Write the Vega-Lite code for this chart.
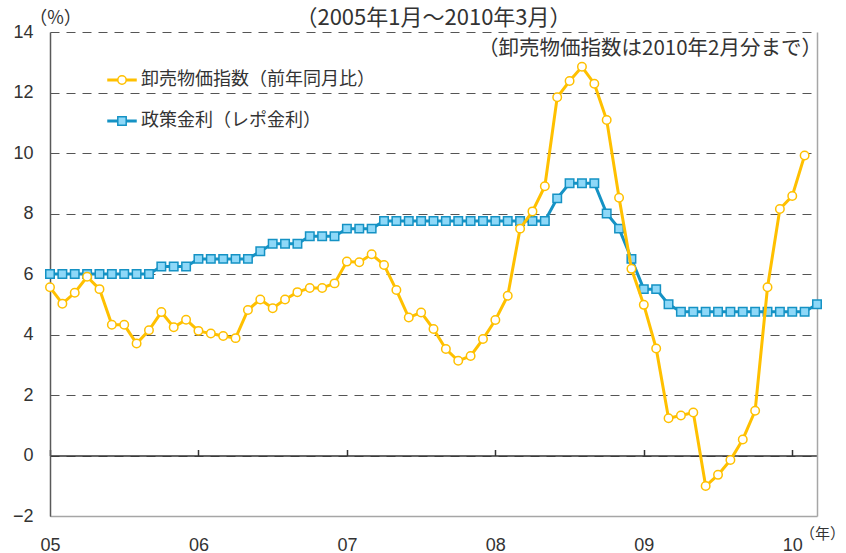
{
"$schema": "https://vega.github.io/schema/vega-lite/v6.json",
"width": 767,
"height": 484,
"autosize": {"type": "none"},
"padding": {"left": 50, "top": 32, "right": 29, "bottom": 37},
"background": "white",
"config": {"font": "Liberation Sans", "view": {"stroke": null}},
"title": {"text": "（2005年1月～2010年3月）", "font": "Noto Sans CJK JP", "fontSize": 22, "fontWeight": "normal", "color": "#333333", "anchor": "middle", "offset": 5, "dy": 26},
"data": {"values": [
{"month":"2005-01","series":"政策金利（レポ金利）","value":6.0},
{"month":"2005-02","series":"政策金利（レポ金利）","value":6.0},
{"month":"2005-03","series":"政策金利（レポ金利）","value":6.0},
{"month":"2005-04","series":"政策金利（レポ金利）","value":6.0},
{"month":"2005-05","series":"政策金利（レポ金利）","value":6.0},
{"month":"2005-06","series":"政策金利（レポ金利）","value":6.0},
{"month":"2005-07","series":"政策金利（レポ金利）","value":6.0},
{"month":"2005-08","series":"政策金利（レポ金利）","value":6.0},
{"month":"2005-09","series":"政策金利（レポ金利）","value":6.0},
{"month":"2005-10","series":"政策金利（レポ金利）","value":6.25},
{"month":"2005-11","series":"政策金利（レポ金利）","value":6.25},
{"month":"2005-12","series":"政策金利（レポ金利）","value":6.25},
{"month":"2006-01","series":"政策金利（レポ金利）","value":6.5},
{"month":"2006-02","series":"政策金利（レポ金利）","value":6.5},
{"month":"2006-03","series":"政策金利（レポ金利）","value":6.5},
{"month":"2006-04","series":"政策金利（レポ金利）","value":6.5},
{"month":"2006-05","series":"政策金利（レポ金利）","value":6.5},
{"month":"2006-06","series":"政策金利（レポ金利）","value":6.75},
{"month":"2006-07","series":"政策金利（レポ金利）","value":7.0},
{"month":"2006-08","series":"政策金利（レポ金利）","value":7.0},
{"month":"2006-09","series":"政策金利（レポ金利）","value":7.0},
{"month":"2006-10","series":"政策金利（レポ金利）","value":7.25},
{"month":"2006-11","series":"政策金利（レポ金利）","value":7.25},
{"month":"2006-12","series":"政策金利（レポ金利）","value":7.25},
{"month":"2007-01","series":"政策金利（レポ金利）","value":7.5},
{"month":"2007-02","series":"政策金利（レポ金利）","value":7.5},
{"month":"2007-03","series":"政策金利（レポ金利）","value":7.5},
{"month":"2007-04","series":"政策金利（レポ金利）","value":7.75},
{"month":"2007-05","series":"政策金利（レポ金利）","value":7.75},
{"month":"2007-06","series":"政策金利（レポ金利）","value":7.75},
{"month":"2007-07","series":"政策金利（レポ金利）","value":7.75},
{"month":"2007-08","series":"政策金利（レポ金利）","value":7.75},
{"month":"2007-09","series":"政策金利（レポ金利）","value":7.75},
{"month":"2007-10","series":"政策金利（レポ金利）","value":7.75},
{"month":"2007-11","series":"政策金利（レポ金利）","value":7.75},
{"month":"2007-12","series":"政策金利（レポ金利）","value":7.75},
{"month":"2008-01","series":"政策金利（レポ金利）","value":7.75},
{"month":"2008-02","series":"政策金利（レポ金利）","value":7.75},
{"month":"2008-03","series":"政策金利（レポ金利）","value":7.75},
{"month":"2008-04","series":"政策金利（レポ金利）","value":7.75},
{"month":"2008-05","series":"政策金利（レポ金利）","value":7.75},
{"month":"2008-06","series":"政策金利（レポ金利）","value":8.5},
{"month":"2008-07","series":"政策金利（レポ金利）","value":9.0},
{"month":"2008-08","series":"政策金利（レポ金利）","value":9.0},
{"month":"2008-09","series":"政策金利（レポ金利）","value":9.0},
{"month":"2008-10","series":"政策金利（レポ金利）","value":8.0},
{"month":"2008-11","series":"政策金利（レポ金利）","value":7.5},
{"month":"2008-12","series":"政策金利（レポ金利）","value":6.5},
{"month":"2009-01","series":"政策金利（レポ金利）","value":5.5},
{"month":"2009-02","series":"政策金利（レポ金利）","value":5.5},
{"month":"2009-03","series":"政策金利（レポ金利）","value":5.0},
{"month":"2009-04","series":"政策金利（レポ金利）","value":4.75},
{"month":"2009-05","series":"政策金利（レポ金利）","value":4.75},
{"month":"2009-06","series":"政策金利（レポ金利）","value":4.75},
{"month":"2009-07","series":"政策金利（レポ金利）","value":4.75},
{"month":"2009-08","series":"政策金利（レポ金利）","value":4.75},
{"month":"2009-09","series":"政策金利（レポ金利）","value":4.75},
{"month":"2009-10","series":"政策金利（レポ金利）","value":4.75},
{"month":"2009-11","series":"政策金利（レポ金利）","value":4.75},
{"month":"2009-12","series":"政策金利（レポ金利）","value":4.75},
{"month":"2010-01","series":"政策金利（レポ金利）","value":4.75},
{"month":"2010-02","series":"政策金利（レポ金利）","value":4.75},
{"month":"2010-03","series":"政策金利（レポ金利）","value":5.0},
{"month":"2005-01","series":"卸売物価指数（前年同月比）","value":5.56},
{"month":"2005-02","series":"卸売物価指数（前年同月比）","value":5.02},
{"month":"2005-03","series":"卸売物価指数（前年同月比）","value":5.38},
{"month":"2005-04","series":"卸売物価指数（前年同月比）","value":5.91},
{"month":"2005-05","series":"卸売物価指数（前年同月比）","value":5.5},
{"month":"2005-06","series":"卸売物価指数（前年同月比）","value":4.32},
{"month":"2005-07","series":"卸売物価指数（前年同月比）","value":4.32},
{"month":"2005-08","series":"卸売物価指数（前年同月比）","value":3.7},
{"month":"2005-09","series":"卸売物価指数（前年同月比）","value":4.14},
{"month":"2005-10","series":"卸売物価指数（前年同月比）","value":4.74},
{"month":"2005-11","series":"卸売物価指数（前年同月比）","value":4.24},
{"month":"2005-12","series":"卸売物価指数（前年同月比）","value":4.49},
{"month":"2006-01","series":"卸売物価指数（前年同月比）","value":4.12},
{"month":"2006-02","series":"卸売物価指数（前年同月比）","value":4.03},
{"month":"2006-03","series":"卸売物価指数（前年同月比）","value":3.95},
{"month":"2006-04","series":"卸売物価指数（前年同月比）","value":3.88},
{"month":"2006-05","series":"卸売物価指数（前年同月比）","value":4.81},
{"month":"2006-06","series":"卸売物価指数（前年同月比）","value":5.16},
{"month":"2006-07","series":"卸売物価指数（前年同月比）","value":4.87},
{"month":"2006-08","series":"卸売物価指数（前年同月比）","value":5.16},
{"month":"2006-09","series":"卸売物価指数（前年同月比）","value":5.4},
{"month":"2006-10","series":"卸売物価指数（前年同月比）","value":5.54},
{"month":"2006-11","series":"卸売物価指数（前年同月比）","value":5.54},
{"month":"2006-12","series":"卸売物価指数（前年同月比）","value":5.69},
{"month":"2007-01","series":"卸売物価指数（前年同月比）","value":6.41},
{"month":"2007-02","series":"卸売物価指数（前年同月比）","value":6.39},
{"month":"2007-03","series":"卸売物価指数（前年同月比）","value":6.65},
{"month":"2007-04","series":"卸売物価指数（前年同月比）","value":6.3},
{"month":"2007-05","series":"卸売物価指数（前年同月比）","value":5.47},
{"month":"2007-06","series":"卸売物価指数（前年同月比）","value":4.56},
{"month":"2007-07","series":"卸売物価指数（前年同月比）","value":4.73},
{"month":"2007-08","series":"卸売物価指数（前年同月比）","value":4.18},
{"month":"2007-09","series":"卸売物価指数（前年同月比）","value":3.52},
{"month":"2007-10","series":"卸売物価指数（前年同月比）","value":3.13},
{"month":"2007-11","series":"卸売物価指数（前年同月比）","value":3.29},
{"month":"2007-12","series":"卸売物価指数（前年同月比）","value":3.85},
{"month":"2008-01","series":"卸売物価指数（前年同月比）","value":4.48},
{"month":"2008-02","series":"卸売物価指数（前年同月比）","value":5.28},
{"month":"2008-03","series":"卸売物価指数（前年同月比）","value":7.5},
{"month":"2008-04","series":"卸売物価指数（前年同月比）","value":8.07},
{"month":"2008-05","series":"卸売物価指数（前年同月比）","value":8.9},
{"month":"2008-06","series":"卸売物価指数（前年同月比）","value":11.84},
{"month":"2008-07","series":"卸売物価指数（前年同月比）","value":12.38},
{"month":"2008-08","series":"卸売物価指数（前年同月比）","value":12.85},
{"month":"2008-09","series":"卸売物価指数（前年同月比）","value":12.29},
{"month":"2008-10","series":"卸売物価指数（前年同月比）","value":11.09},
{"month":"2008-11","series":"卸売物価指数（前年同月比）","value":8.52},
{"month":"2008-12","series":"卸売物価指数（前年同月比）","value":6.17},
{"month":"2009-01","series":"卸売物価指数（前年同月比）","value":4.98},
{"month":"2009-02","series":"卸売物価指数（前年同月比）","value":3.54},
{"month":"2009-03","series":"卸売物価指数（前年同月比）","value":1.23},
{"month":"2009-04","series":"卸売物価指数（前年同月比）","value":1.32},
{"month":"2009-05","series":"卸売物価指数（前年同月比）","value":1.42},
{"month":"2009-06","series":"卸売物価指数（前年同月比）","value":-1.01},
{"month":"2009-07","series":"卸売物価指数（前年同月比）","value":-0.64},
{"month":"2009-08","series":"卸売物価指数（前年同月比）","value":-0.15},
{"month":"2009-09","series":"卸売物価指数（前年同月比）","value":0.53},
{"month":"2009-10","series":"卸売物価指数（前年同月比）","value":1.48},
{"month":"2009-11","series":"卸売物価指数（前年同月比）","value":5.56},
{"month":"2009-12","series":"卸売物価指数（前年同月比）","value":8.15},
{"month":"2010-01","series":"卸売物価指数（前年同月比）","value":8.58},
{"month":"2010-02","series":"卸売物価指数（前年同月比）","value":9.92}
]},
"layer": [
{
"transform": [{"filter": "datum.series === '政策金利（レポ金利）'"}],
"mark": {"type": "line", "strokeWidth": 3},
"encoding": {
"x": {"field": "month", "type": "ordinal", "sort": null, "scale": {"type": "point", "padding": 0},
 "axis": {"orient": "bottom", "values": ["2005-01","2006-01","2007-01","2008-01","2009-01","2010-01"], "labelExpr": "substring(datum.value, 2, 4)", "labelAngle": 0, "labelFlush": false, "labelOverlap": false, "ticks": false, "grid": false, "domainColor": "#a6a6a6", "domainWidth": 1.5, "labelFont": "Liberation Sans", "labelFontSize": 18, "labelColor": "#333333", "labelPadding": 20, "labelBaseline": "top", "title": "（年）", "titleFont": "Noto Sans CJK JP", "titleFontSize": 15, "titleFontWeight": "normal", "titleColor": "#333333", "titleX": 772, "titleY": 17, "titleAlign": "center", "titleBaseline": "middle"}},
"y": {"field": "value", "type": "quantitative", "scale": {"domain": [-2, 14], "nice": false, "zero": false},
 "axis": {"orient": "left", "values": [-2,0,2,4,6,8,10,12,14], "grid": true, "gridDash": [9, 7], "gridColor": "#555555", "gridWidth": 1, "ticks": false, "domainColor": "#595959", "domainWidth": 1.5, "labelFont": "Liberation Sans", "labelFontSize": 18, "labelColor": "#333333", "labelPadding": 17, "title": "（%）", "titleAngle": 0, "titleX": 5, "titleY": -14, "titleAlign": "center", "titleBaseline": "middle", "titleFont": "Noto Sans CJK JP", "titleFontSize": 18, "titleFontWeight": "normal", "titleColor": "#333333"}},
"color": {"field": "series", "type": "nominal", "scale": {"domain": ["卸売物価指数（前年同月比）", "政策金利（レポ金利）"], "range": ["#FFC000", "#1592C4"]},
 "legend": {"orient": "none", "legendX": 57, "legendY": 33, "title": null, "symbolSize": 784, "symbolStrokeWidth": 1.5, "labelFont": "Noto Sans CJK JP", "labelFontSize": 18, "labelColor": "#333333", "labelOffset": 4, "labelLimit": 400, "rowPadding": 17, "padding": 0,
  "encode": {"symbols": {"update": {
   "shape": {"signal": "datum.index === 1 ? 'M-1,-0.054H-0.3V0.054H-1Z M0.3,-0.054H1V0.054H0.3Z M-0.3,-0.3H0.3V0.3H-0.3Z' : 'M-1,-0.054H-0.32V0.054H-1Z M0.32,-0.054H1V0.054H0.32Z M-0.3,0A0.3,0.3 0 1,0 0.3,0A0.3,0.3 0 1,0 -0.3,0Z'"},
   "fill": {"signal": "datum.index === 1 ? '#8ED8F8' : '#ffffff'"},
   "strokeWidth": {"value": 1.5}
  }}}}}
}
},
{
"transform": [{"filter": "datum.series === '政策金利（レポ金利）'"}],
"mark": {"type": "point", "filled": true, "size": 72, "strokeWidth": 1.5, "opacity": 1},
"encoding": {
"x": {"field": "month", "type": "ordinal", "sort": null,
 "axis": {"orient": "top", "offset": -423.5, "values": ["2005-01","2006-01","2007-01","2008-01","2009-01","2010-01"], "labels": false, "ticks": true, "tickSize": 6, "tickColor": "#333333", "tickWidth": 1.5, "domainColor": "#333333", "domainWidth": 1.5, "grid": false, "title": null}},
"y": {"field": "value", "type": "quantitative",
 "axis": {"orient": "right", "labels": false, "ticks": false, "grid": false, "domainColor": "#a6a6a6", "domainWidth": 1.5, "title": null}},
"shape": {"value": "square"},
"fill": {"value": "#8ED8F8"},
"stroke": {"value": "#1592C4"}
}
},
{
"transform": [{"filter": "datum.series === '卸売物価指数（前年同月比）'"}],
"mark": {"type": "line", "strokeWidth": 3},
"encoding": {
"x": {"field": "month", "type": "ordinal", "sort": null, "axis": null},
"y": {"field": "value", "type": "quantitative", "axis": null},
"color": {"field": "series", "type": "nominal"}
}
},
{
"transform": [{"filter": "datum.series === '卸売物価指数（前年同月比）'"}],
"mark": {"type": "point", "filled": true, "size": 72, "strokeWidth": 1.5, "opacity": 1},
"encoding": {
"x": {"field": "month", "type": "ordinal", "sort": null, "axis": null},
"y": {"field": "value", "type": "quantitative", "axis": null},
"shape": {"value": "circle"},
"fill": {"value": "#ffffff"},
"stroke": {"value": "#FFC000"}
}
},
{
"data": {"values": [{"note": "（卸売物価指数は2010年2月分まで）"}]},
"mark": {"type": "text", "align": "right", "baseline": "middle", "dx": 5, "font": "Noto Sans CJK JP", "fontSize": 20.5, "color": "#333333"},
"encoding": {
"x": {"datum": "2010-03", "type": "ordinal", "axis": null},
"y": {"datum": 13.45, "type": "quantitative", "axis": null},
"text": {"field": "note", "type": "nominal"}
}
}
],
"resolve": {"axis": {"x": "independent", "y": "independent"}}
}
